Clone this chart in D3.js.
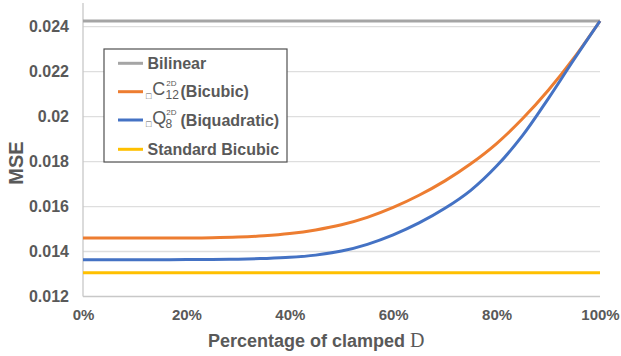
<!DOCTYPE html>
<html>
<head>
<meta charset="utf-8">
<script src="https://cdn.jsdelivr.net/npm/d3@7"></script>
<style>
  html, body { margin: 0; padding: 0; background: #fff; }
  svg { display: block; }
  text { font-family: "Liberation Sans", Arial, sans-serif; }
</style>
</head>
<body>
<svg id="chart" width="621" height="356"></svg>
<script>
// Share of clamped D (percent) at which MSE was sampled
const clampedPct = [0, 5, 10, 15, 20, 25, 30, 35, 40, 45, 50, 55, 60, 65, 70, 75, 80, 85, 90, 95, 100];

// MSE of each interpolation scheme
const bicubicC12 = [0.01460, 0.01460, 0.01460, 0.01460, 0.01460, 0.01461, 0.01464, 0.01470, 0.01480, 0.01496,
                    0.01519, 0.01552, 0.01596, 0.01650, 0.01714, 0.01790, 0.01880, 0.01990, 0.02117, 0.02262, 0.02425];
const biquadQ8   = [0.01363, 0.01363, 0.01363, 0.01363, 0.01364, 0.01365, 0.01366, 0.01369, 0.01374, 0.01384,
                    0.01402, 0.01432, 0.01474, 0.01527, 0.01592, 0.01672, 0.01780, 0.01915, 0.02080, 0.02255, 0.02425];
const bilinearMSE = 0.02425;
const standardBicubicMSE = 0.01306;

const yTicks = [0.012, 0.014, 0.016, 0.018, 0.02, 0.022, 0.024];
const xTicks = [0, 20, 40, 60, 80, 100];

const seriesNames = ["Bilinear", "C", "Q", "Standard Bicubic"];
const colors = { bilinear: "#a5a5a5", c12: "#ed7d31", q8: "#4472c4", std: "#ffc000" };

const svg = d3.select("#chart");
const x = d3.scaleLinear().domain([0, 100]).range([83, 600]);
const y = d3.scaleLinear().domain([0.012, 0.024]).range([296.5, 26.6]);
const textGray = "#595959";

// horizontal gridlines
svg.append("g")
  .selectAll("line")
  .data(yTicks.slice(1))
  .join("line")
  .attr("x1", x(0)).attr("x2", x(100))
  .attr("y1", d => y(d)).attr("y2", d => y(d))
  .attr("stroke", "#dedede").attr("stroke-width", 1.3);

// axis lines
svg.append("line")
  .attr("x1", x(0)).attr("x2", x(100))
  .attr("y1", y(0.012)).attr("y2", y(0.012))
  .attr("stroke", "#c8c8c8").attr("stroke-width", 1.3);
svg.append("line")
  .attr("x1", x(0)).attr("x2", x(0))
  .attr("y1", 3).attr("y2", y(0.012))
  .attr("stroke", "#c8c8c8").attr("stroke-width", 1.3);

// y axis tick labels
const yAxis = d3.axisLeft(y).tickValues(yTicks).tickSize(0).tickPadding(0)
  .tickFormat(d => String(+d.toFixed(3)));
svg.append("g")
  .attr("transform", "translate(69,0)")
  .call(yAxis)
  .call(g => g.select(".domain").remove())
  .selectAll("text")
  .attr("fill", textGray)
  .attr("font-size", 16)
  .attr("font-weight", "bold")
  .attr("font-family", "Liberation Sans, Arial, sans-serif");

// x axis tick labels
const xAxis = d3.axisBottom(x).tickValues(xTicks).tickSize(0).tickPadding(0)
  .tickFormat(d => d + "%");
svg.append("g")
  .attr("transform", "translate(0,309)")
  .call(xAxis)
  .call(g => g.select(".domain").remove())
  .selectAll("text")
  .attr("fill", textGray)
  .attr("font-size", 15)
  .attr("font-weight", "bold")
  .attr("font-family", "Liberation Sans, Arial, sans-serif");

// series lines
const line = d3.line()
  .x((d, i) => x(clampedPct[i]))
  .y(d => y(d))
  .curve(d3.curveCatmullRom.alpha(0.5));

svg.append("line")
  .attr("x1", x(0)).attr("x2", x(100))
  .attr("y1", y(bilinearMSE)).attr("y2", y(bilinearMSE))
  .attr("stroke", colors.bilinear).attr("stroke-width", 3);
svg.append("line")
  .attr("x1", x(0)).attr("x2", x(100))
  .attr("y1", y(standardBicubicMSE)).attr("y2", y(standardBicubicMSE))
  .attr("stroke", colors.std).attr("stroke-width", 3);
svg.append("path").datum(bicubicC12)
  .attr("d", line).attr("fill", "none")
  .attr("stroke", colors.c12).attr("stroke-width", 3);
svg.append("path").datum(biquadQ8)
  .attr("d", line).attr("fill", "none")
  .attr("stroke", colors.q8).attr("stroke-width", 3);

// axis titles
svg.append("text")
  .attr("transform", "translate(23,163) rotate(-90)")
  .attr("text-anchor", "middle")
  .attr("fill", textGray).attr("font-size", 20).attr("font-weight", "bold")
  .text("MSE");

const xTitle = svg.append("text")
  .attr("x", 208).attr("y", 347)
  .attr("fill", textGray).attr("font-size", 18).attr("font-weight", "bold");
xTitle.append("tspan").text("Percentage of clamped ");
xTitle.append("tspan")
  .attr("font-family", "Liberation Serif, Times New Roman, serif")
  .attr("font-weight", "normal").attr("font-size", 20)
  .text("D");

// legend
const lg = svg.append("g");
lg.append("rect")
  .attr("x", 104).attr("y", 49).attr("width", 183).attr("height", 113)
  .attr("fill", "#fff").attr("stroke", "#505050").attr("stroke-width", 1.2);

const rows = [
  { key: "bilinear", y: 63.3 },
  { key: "c12", y: 91.7 },
  { key: "q8", y: 120 },
  { key: "std", y: 149.3 }
];
lg.selectAll("line.sw")
  .data(rows)
  .join("line")
  .attr("class", "sw")
  .attr("x1", 118).attr("x2", 143)
  .attr("y1", d => d.y).attr("y2", d => d.y)
  .attr("stroke", d => colors[d.key]).attr("stroke-width", 3);

function plainLabel(yRow, label) {
  lg.append("text")
    .attr("x", 147.5).attr("y", yRow + 5.6)
    .attr("fill", textGray).attr("font-size", 16).attr("font-weight", "bold")
    .text(label);
}
plainLabel(rows[0].y, seriesNames[0]);
plainLabel(rows[3].y, seriesNames[3]);

// pre-subscript box, serif symbol with stacked 2D / index scripts, then the name
function mathLabel(yRow, base, sub, suffix) {
  const baseY = yRow + 3.6;
  lg.append("text")
    .attr("x", 146).attr("y", baseY + 3.6)
    .attr("fill", textGray).attr("font-size", 9)
    .attr("font-family", "DejaVu Sans, sans-serif")
    .text("\u25A1");
  lg.append("text")
    .attr("x", 152.3).attr("y", baseY)
    .attr("fill", textGray).attr("font-size", 18)
    .attr("font-family", "Liberation Serif, Times New Roman, serif")
    .text(base);
  lg.append("text")
    .attr("x", 166.2).attr("y", baseY - 9)
    .attr("fill", textGray).attr("font-size", 8)
    .attr("font-family", "Liberation Serif, Times New Roman, serif")
    .text("2D");
  lg.append("text")
    .attr("x", 165.5).attr("y", baseY + 4)
    .attr("fill", textGray).attr("font-size", 12)
    .attr("font-family", "Liberation Serif, Times New Roman, serif")
    .text(sub);
  lg.append("text")
    .attr("x", 180.5).attr("y", yRow + 5.6)
    .attr("fill", textGray).attr("font-size", 16).attr("font-weight", "bold")
    .text(suffix);
}
mathLabel(rows[1].y, seriesNames[1], "12", "(Bicubic)");
mathLabel(rows[2].y, seriesNames[2], "8", "(Biquadratic)");
</script>
</body>
</html>
